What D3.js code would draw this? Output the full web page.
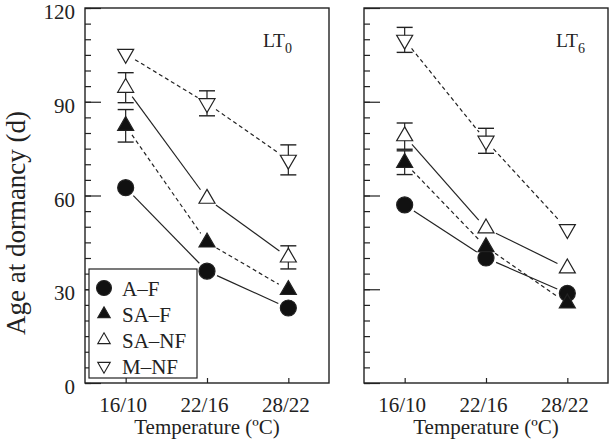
<!DOCTYPE html>
<html>
<head>
<meta charset="utf-8">
<script src="https://cdn.jsdelivr.net/npm/d3@7"></script>
<style>
  body { margin: 0; background: #fff; }
  svg text { font-family: "Liberation Serif", "Times New Roman", serif; fill: #222; }
</style>
</head>
<body>
<div id="chart"></div>
<script>
// categories
const temps = ["16/10", "22/16", "28/22"];
const seriesNames = ["A–F", "SA–F", "SA–NF", "M–NF"];

// LT0 panel (means, d)
const lt0AF = [62.5, 35.8, 24.0];
const lt0SAF = [82.3, 45.0, 29.8];
const lt0SANF = [94.5, 59.0, 40.2];
const lt0MNF = [105.3, 89.5, 71.4];
// LT0 error bars (half width, null = none drawn)
const lt0AFerr = [null, null, null];
const lt0SAFerr = [5.2, null, null];
const lt0SANFerr = [4.8, null, 3.7];
const lt0MNFerr = [null, 4.0, 4.8];

// LT6 panel
const lt6AF = [57.0, 40.0, 28.7];
const lt6SAF = [70.5, 43.5, 25.5];
const lt6SANF = [79.0, 49.5, 36.7];
const lt6MNF = [109.8, 77.5, 49.2];
const lt6AFerr = [null, null, null];
const lt6SAFerr = [3.8, null, null];
const lt6SANFerr = [4.2, null, null];
const lt6MNFerr = [4.0, 4.0, null];

const yTicks = [0, 30, 60, 90, 120];

// marker styles per series
const styles = [
  { shape: "circle", fill: "#111" },
  { shape: "up", fill: "#111", dashed: true },
  { shape: "up", fill: "#fff" },
  { shape: "down", fill: "#fff", dashed: true }
];

const panels = [
  { label: "LT", sub: "0", x0: 85, x1: 329, labelX: 263, showY: true,
    means: [lt0AF, lt0SAF, lt0SANF, lt0MNF], errs: [lt0AFerr, lt0SAFerr, lt0SANFerr, lt0MNFerr] },
  { label: "LT", sub: "6", x0: 364, x1: 608, labelX: 556, showY: false,
    means: [lt6AF, lt6SAF, lt6SANF, lt6MNF], errs: [lt6AFerr, lt6SAFerr, lt6SANFerr, lt6MNFerr] }
];

const W = 610, H = 445;
const plotTop = 8, plotBottom = 383;
const ink = "#222";
const serif = "Liberation Serif";
const fs = 21;

const svg = d3.select("#chart").append("svg")
  .attr("width", W).attr("height", H)
  .attr("font-family", serif);

const y = d3.scaleLinear().domain([0, 120]).range([plotBottom, plotTop]);

function symbolPath(shape, big) {
  if (shape === "circle") return d3.symbol(d3.symbolCircle, Math.PI * (big ? 64 : 56))();
  let side = big ? 16 : 12.5;
  return d3.symbol(d3.symbolTriangle, Math.sqrt(3) / 4 * side * side)();
}

panels.forEach(p => {
  const x = d3.scalePoint().domain(temps).range([p.x0, p.x1]).padding(0.5);
  const g = svg.append("g");

  // minor y ticks
  g.append("g")
    .attr("transform", `translate(${p.x0},0)`)
    .call(d3.axisLeft(y).tickValues(d3.range(0, 121, 5)).tickSizeInner(-6).tickSizeOuter(0).tickFormat(""))
    .call(a => a.select(".domain").remove())
    .selectAll("line").attr("stroke", ink).attr("stroke-width", 1.2);

  // major y ticks
  const ya = g.append("g")
    .attr("transform", `translate(${p.x0},0)`)
    .call(d3.axisLeft(y).tickValues(yTicks).tickSizeInner(-16).tickSizeOuter(0).tickPadding(10)
      .tickFormat(p.showY ? d3.format("d") : ""))
    .attr("font-family", serif);
  ya.select(".domain").remove();
  ya.selectAll("line").attr("stroke", ink).attr("stroke-width", 1.2);
  ya.selectAll("text").attr("font-size", fs).attr("dy", "0.5em").attr("fill", ink);

  // x ticks
  const xa = g.append("g")
    .attr("transform", `translate(0,${plotBottom})`)
    .call(d3.axisBottom(x).tickSizeInner(-5).tickSizeOuter(0).tickPadding(13.8))
    .attr("font-family", serif);
  xa.select(".domain").remove();
  xa.selectAll("line").attr("stroke", ink).attr("stroke-width", 1.2);
  xa.selectAll("text").attr("font-size", fs).attr("dx", -3).attr("fill", ink);

  // frame
  g.append("rect")
    .attr("x", p.x0).attr("y", plotTop)
    .attr("width", p.x1 - p.x0).attr("height", plotBottom - plotTop)
    .attr("fill", "none").attr("stroke", ink).attr("stroke-width", 1.4);

  // x title
  g.append("text")
    .attr("x", (p.x0 + p.x1) / 2).attr("y", 434)
    .attr("text-anchor", "middle").attr("font-size", fs)
    .text("Temperature (ºC)");

  // panel label
  const lt = g.append("text")
    .attr("x", p.labelX).attr("y", 47).attr("font-size", 19.5)
    .text(p.label);
  lt.append("tspan").attr("font-size", 14).attr("dy", 6).text(p.sub);

  // connecting lines, shortened near markers
  const gap = 11;
  p.means.forEach((vals, si) => {
    const pts = vals.map((v, i) => [x(temps[i]), y(v)]);
    for (let i = 0; i < pts.length - 1; i++) {
      const [ax, ay] = pts[i], [bx, by] = pts[i + 1];
      const len = Math.hypot(bx - ax, by - ay);
      const ux = (bx - ax) / len, uy = (by - ay) / len;
      g.append("line")
        .attr("x1", ax + ux * gap).attr("y1", ay + uy * gap)
        .attr("x2", bx - ux * gap).attr("y2", by - uy * gap)
        .attr("stroke", ink).attr("stroke-width", 1.2)
        .attr("stroke-dasharray", styles[si].dashed ? "4,3" : null);
    }
  });

  // error bars
  p.means.forEach((vals, si) => {
    vals.forEach((v, i) => {
      const e = p.errs[si][i];
      if (e == null) return;
      const cx = x(temps[i]);
      g.append("line")
        .attr("x1", cx).attr("x2", cx)
        .attr("y1", y(v - e)).attr("y2", y(v + e))
        .attr("stroke", ink).attr("stroke-width", 1.2);
      [v - e, v + e].forEach(c => {
        g.append("line")
          .attr("x1", cx - 8).attr("x2", cx + 8)
          .attr("y1", y(c)).attr("y2", y(c))
          .attr("stroke", ink).attr("stroke-width", 1.4);
      });
    });
  });

  // markers
  p.means.forEach((vals, si) => {
    const st = styles[si];
    g.selectAll(null)
      .data(vals)
      .enter()
      .append("path")
      .attr("d", symbolPath(st.shape, true))
      .attr("transform", (d, i) => `translate(${x(temps[i])},${y(d)})` + (st.shape === "down" ? " rotate(180)" : ""))
      .attr("fill", st.fill)
      .attr("stroke", ink)
      .attr("stroke-width", 1.2);
  });
});

// y title
svg.append("text")
  .attr("transform", `translate(25,223) rotate(-90)`)
  .attr("text-anchor", "middle").attr("font-size", 27)
  .text("Age at dormancy (d)");

// legend
const legend = svg.append("g");
legend.append("rect")
  .attr("x", 89).attr("y", 269).attr("width", 108).attr("height", 109)
  .attr("fill", "#fff").attr("stroke", ink).attr("stroke-width", 1.2);

seriesNames.forEach((name, i) => {
  const cy = 288 + i * 26;
  const st = styles[i];
  legend.append("path")
    .attr("d", symbolPath(st.shape, false))
    .attr("transform", `translate(104,${cy})` + (st.shape === "down" ? " rotate(180)" : ""))
    .attr("fill", st.fill).attr("stroke", ink).attr("stroke-width", 1.1);
  legend.append("text")
    .attr("x", 122).attr("y", cy + 8)
    .attr("font-size", fs)
    .text(name);
});
</script>
</body>
</html>
